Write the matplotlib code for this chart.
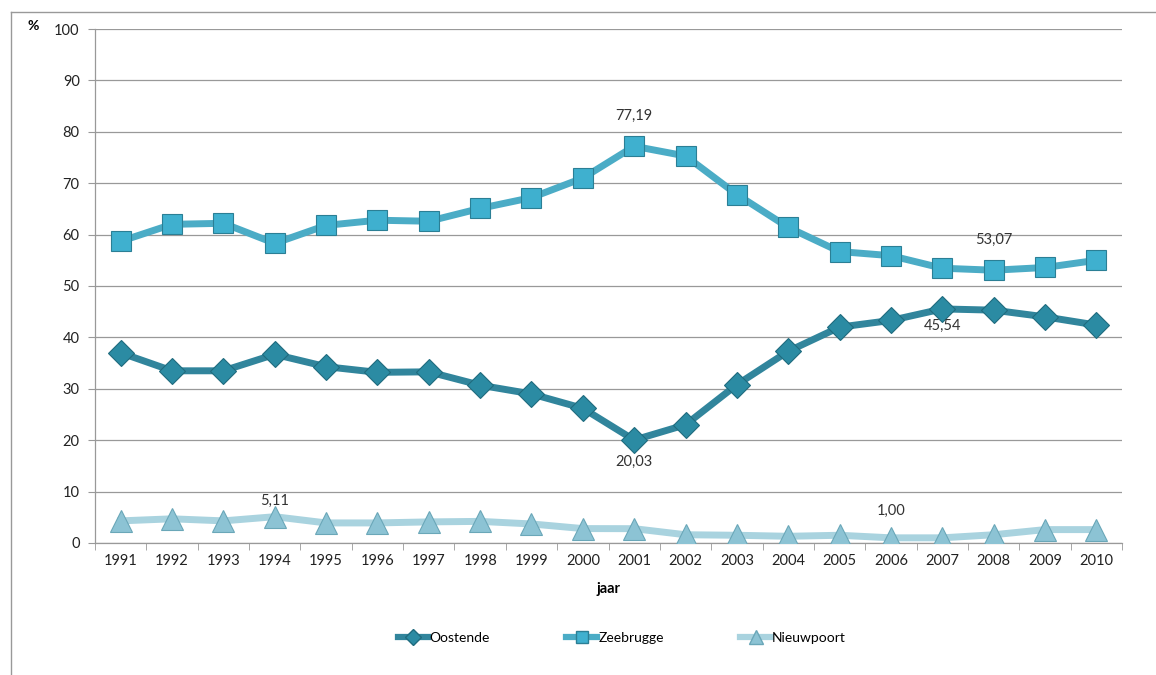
import matplotlib
matplotlib.use("Agg")
import matplotlib.pyplot as plt
from matplotlib.lines import Line2D

years = [str(y) for y in range(1991, 2011)]
oostende = [37.0, 33.5, 33.5, 36.7, 34.3, 33.2, 33.3, 30.7, 29.0, 26.2,
            20.03, 23.0, 30.8, 37.3, 42.0, 43.3, 45.54, 45.3, 44.0, 42.4]
zeebrugge = [58.7, 62.0, 62.2, 58.3, 61.8, 62.8, 62.6, 65.1, 67.2, 71.0,
             77.19, 75.3, 67.8, 61.4, 56.7, 55.9, 53.46, 53.07, 53.6, 55.0]
nieuwpoort = [4.3, 4.7, 4.3, 5.11, 3.9, 3.9, 4.1, 4.2, 3.7, 2.8,
              2.78, 1.6, 1.5, 1.3, 1.5, 1.00, 1.0, 1.6, 2.6, 2.6]
yticks = list(range(0, 101, 10))

plt.rcParams['font.family'] = ['Lato', 'DejaVu Sans']

fig = plt.figure(figsize=(11.56, 6.75), dpi=100)
ax = fig.add_axes([0.0822, 0.1956, 0.8884, 0.7614])

x = list(range(len(years)))
c_oo_line, c_oo_mk = '#31859c', '#2b8ba3'
c_ze_line, c_ze_mk = '#4bacc6', '#3fb0cf'
c_ni_line, c_ni_mk = '#a9d3df', '#8cc3d4'

ax.plot(x, oostende, color=c_oo_line, lw=5, marker='D', ms=13,
        mfc=c_oo_mk, mec='#1f6b7e', mew=0.8, zorder=3, label='Oostende')
ax.plot(x, zeebrugge, color=c_ze_line, lw=5, marker='s', ms=14,
        mfc=c_ze_mk, mec='#2b7f95', mew=0.8, zorder=3, label='Zeebrugge')
ax.plot(x, nieuwpoort, color=c_ni_line, lw=5, marker='^', ms=16,
        mfc=c_ni_mk, mec='#6aa7b8', mew=0.8, zorder=3, label='Nieuwpoort')

def fmt(v):
    return f"{v:.2f}".replace('.', ',')

lab_kw = dict(ha='center', fontsize=10.5, color='#333333', zorder=4)
i = years.index('2001')
ax.annotate(fmt(zeebrugge[i]), (i, zeebrugge[i]), xytext=(0, 17), textcoords='offset points', va='bottom', **lab_kw)
ax.annotate(fmt(oostende[i]), (i, oostende[i]), xytext=(0, -11), textcoords='offset points', va='top', **lab_kw)
i = years.index('2008')
ax.annotate(fmt(zeebrugge[i]), (i, zeebrugge[i]), xytext=(0, 17), textcoords='offset points', va='bottom', **lab_kw)
i = years.index('2007')
ax.annotate(fmt(oostende[i]), (i, oostende[i]), xytext=(0, -7), textcoords='offset points', va='top', **lab_kw)
i = years.index('1994')
ax.annotate(fmt(nieuwpoort[i]), (i, nieuwpoort[i]), xytext=(0, 6), textcoords='offset points', va='bottom', **lab_kw)
i = years.index('2006')
ax.annotate(fmt(nieuwpoort[i]), (i, nieuwpoort[i]), xytext=(0, 14), textcoords='offset points', va='bottom', **lab_kw)

ax.set_xlim(-0.5, len(years) - 0.5)
ax.set_ylim(0, 100)
ax.set_yticks(yticks)
ax.set_yticklabels([str(t) for t in yticks], fontsize=10.5, color='#222222')
ax.set_xticks(x)
ax.set_xticklabels(years, fontsize=10.5, color='#222222')
ax.tick_params(axis='x', which='major', length=0, pad=8)
ax.set_xticks([k - 0.5 for k in range(len(years) + 1)], minor=True)
ax.tick_params(axis='x', which='minor', length=5, color='#999999', direction='out')
ax.tick_params(axis='y', length=5, color='#999999', pad=6)
ax.grid(axis='y', color='#999999', lw=0.9, zorder=0)
for s in ['top', 'right']:
    ax.spines[s].set_visible(False)
for s in ['left', 'bottom']:
    ax.spines[s].set_color('#999999')
    ax.spines[s].set_linewidth(0.9)

ax.set_xlabel('jaar', fontsize=10.5, fontweight='bold', labelpad=10)
fig.text(33 / 1156, 1 - 26 / 675, '%', fontsize=10, fontweight='bold', ha='center', va='center')

handles = [
    Line2D([], [], color=c_oo_line, lw=4.5, marker='D', ms=8, mfc=c_oo_mk, mec='#1f6b7e'),
    Line2D([], [], color=c_ze_line, lw=4.5, marker='s', ms=9, mfc=c_ze_mk, mec='#2b7f95'),
    Line2D([], [], color=c_ni_line, lw=4.5, marker='^', ms=10, mfc=c_ni_mk, mec='#6aa7b8'),
]
fig.legend(handles, ['Oostende', 'Zeebrugge', 'Nieuwpoort'], loc='center',
           bbox_to_anchor=(0.538, 1 - 638 / 675), ncol=3, frameon=False,
           fontsize=10, handlelength=2.2, handletextpad=0.1, columnspacing=5.5)

# outer frame
fig.add_artist(Line2D([11 / 1156, 11 / 1156], [0, 1 - 12 / 675], transform=fig.transFigure, color='#999999', lw=1))
fig.add_artist(Line2D([11 / 1156, 1], [1 - 12 / 675, 1 - 12 / 675], transform=fig.transFigure, color='#999999', lw=1))

fig.savefig('out.png', dpi=100)
